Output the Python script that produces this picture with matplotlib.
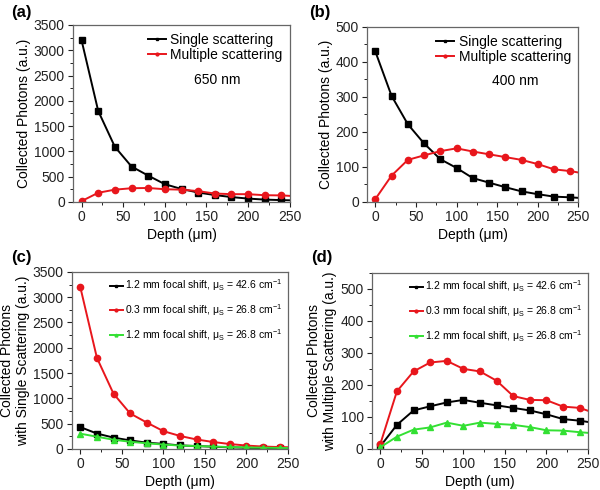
import matplotlib
matplotlib.use("Agg")
import matplotlib.pyplot as plt
from matplotlib.ticker import MultipleLocator

plt.rcParams["font.family"] = ["Liberation Sans", "DejaVu Sans"]
plt.rcParams["mathtext.fontset"] = "custom"
plt.rcParams["mathtext.rm"] = "Liberation Sans"
plt.rcParams["mathtext.it"] = "Liberation Sans"

BLACK = "#000000"
RED = "#e8161c"
GREEN = "#33e033"

depth = [0, 20, 40, 60, 80, 100, 120, 140, 160, 180, 200, 220, 240, 260]

# 650 nm, 0.3 mm focal shift, mu_s = 26.8 /cm
single_650 = [3200, 1800, 1090, 700, 520, 350, 255, 185, 135, 95, 65, 45, 35, 28]
multi_650 = [15, 180, 242, 270, 275, 250, 242, 213, 165, 153, 152, 132, 128, 110]

# 400 nm, 1.2 mm focal shift, mu_s = 42.6 /cm
single_400 = [430, 303, 222, 167, 122, 97, 68, 55, 42, 30, 22, 15, 13, 10]
multi_400 = [8, 75, 120, 133, 145, 153, 144, 136, 128, 120, 108, 93, 88, 80]

# 1.2 mm focal shift, mu_s = 26.8 /cm
single_green = [300, 240, 180, 140, 110, 85, 65, 55, 45, 35, 28, 22, 18, 15]
multi_green = [5, 38, 60, 67, 82, 72, 82, 78, 75, 68, 58, 57, 52, 48]

legend_ab = ["Single scattering", "Multiple scattering"]
legend_cd = [
    r"1.2 mm focal shift, $\mu_S$ = 42.6 cm$^{-1}$",
    r"0.3 mm focal shift, $\mu_S$ = 26.8 cm$^{-1}$",
    r"1.2 mm focal shift, $\mu_S$ = 26.8 cm$^{-1}$",
]


def style_axes(ax, ymax, ystep, yminor):
    ax.set_xlim(-10, 250)
    ax.set_ylim(0, ymax)
    ax.xaxis.set_major_locator(MultipleLocator(50))
    ax.xaxis.set_minor_locator(MultipleLocator(25))
    ax.yaxis.set_major_locator(MultipleLocator(ystep))
    ax.yaxis.set_minor_locator(MultipleLocator(yminor))
    ax.tick_params(direction="out", length=3.5, width=0.8, labelsize=10, colors="#222222", pad=2.5)
    ax.tick_params(which="minor", direction="out", length=2, width=0.6)
    for s in ax.spines.values():
        s.set_color("#666666")
        s.set_linewidth(0.9)
    ax.set_xlabel("Depth (\u03bcm)", fontsize=10, labelpad=3)


fig = plt.figure(figsize=(6, 4.9), dpi=100)
ax_a = fig.add_axes([0.122, 0.588, 0.361, 0.361])
ax_b = fig.add_axes([0.612, 0.588, 0.352, 0.357])
ax_c = fig.add_axes([0.120, 0.084, 0.360, 0.361])
ax_d = fig.add_axes([0.620, 0.084, 0.360, 0.359])

kw = dict(lw=1.4, ms=4.5, clip_on=True)
leg_ab = dict(loc="upper right", frameon=False, fontsize=10, markerscale=0.45,
              handlelength=1.3, handletextpad=0.3, labelspacing=0.1, borderaxespad=0.15)
leg_cd = dict(loc="upper right", frameon=False, fontsize=7.5, markerscale=0.45,
              handlelength=1.3, handletextpad=0.2, labelspacing=0.85, borderaxespad=0.15)

# (a)
ax_a.plot(depth, single_650, "-s", color=BLACK, label=legend_ab[0], **kw)
ax_a.plot(depth, multi_650, "-o", color=RED, mec=RED, label=legend_ab[1], **kw)
style_axes(ax_a, 3500, 500, 250)
ax_a.set_ylabel("Collected Photons (a.u.)", fontsize=10, labelpad=2)
ax_a.legend(**leg_ab)
ax_a.text(0.56, 0.69, "650 nm", transform=ax_a.transAxes, fontsize=10, va="center")

# (b)
ax_b.plot(depth, single_400, "-s", color=BLACK, label=legend_ab[0], **kw)
ax_b.plot(depth, multi_400, "-o", color=RED, mec=RED, label=legend_ab[1], **kw)
style_axes(ax_b, 500, 100, 50)
ax_b.set_ylabel("Collected Photons (a.u.)", fontsize=10, labelpad=2)
ax_b.legend(**leg_ab)
ax_b.text(0.59, 0.69, "400 nm", transform=ax_b.transAxes, fontsize=10, va="center")

# (c)
ax_c.plot(depth, single_400, "-s", color=BLACK, label=legend_cd[0], **kw)
ax_c.plot(depth, single_650, "-o", color=RED, mec=RED, label=legend_cd[1], **kw)
ax_c.plot(depth, single_green, "-^", color=GREEN, mec=GREEN, label=legend_cd[2], **kw)
style_axes(ax_c, 3500, 500, 250)
ax_c.set_ylabel("Collected Photons\nwith Single Scattering (a.u.)", fontsize=10, labelpad=2)
ax_c.legend(**leg_cd)

# (d)
ax_d.plot(depth, multi_400, "-s", color=BLACK, label=legend_cd[0], **kw)
ax_d.plot(depth, multi_650, "-o", color=RED, mec=RED, label=legend_cd[1], **kw)
ax_d.plot(depth, multi_green, "-^", color=GREEN, mec=GREEN, label=legend_cd[2], **kw)
style_axes(ax_d, 550, 100, 50)
ax_d.set_xlabel("Depth (um)", fontsize=10, labelpad=3)
ax_d.set_ylabel("Collected Photons\nwith Multiple Scattering (a.u.)", fontsize=10, labelpad=2)
ax_d.legend(**leg_cd)

for label, x, y in [("(a)", 0.018, 0.99), ("(b)", 0.515, 0.99),
                    ("(c)", 0.018, 0.49), ("(d)", 0.518, 0.49)]:
    fig.text(x, y, label, fontsize=12, fontweight="bold", va="top", ha="left")

fig.savefig("out.png", dpi=100)
